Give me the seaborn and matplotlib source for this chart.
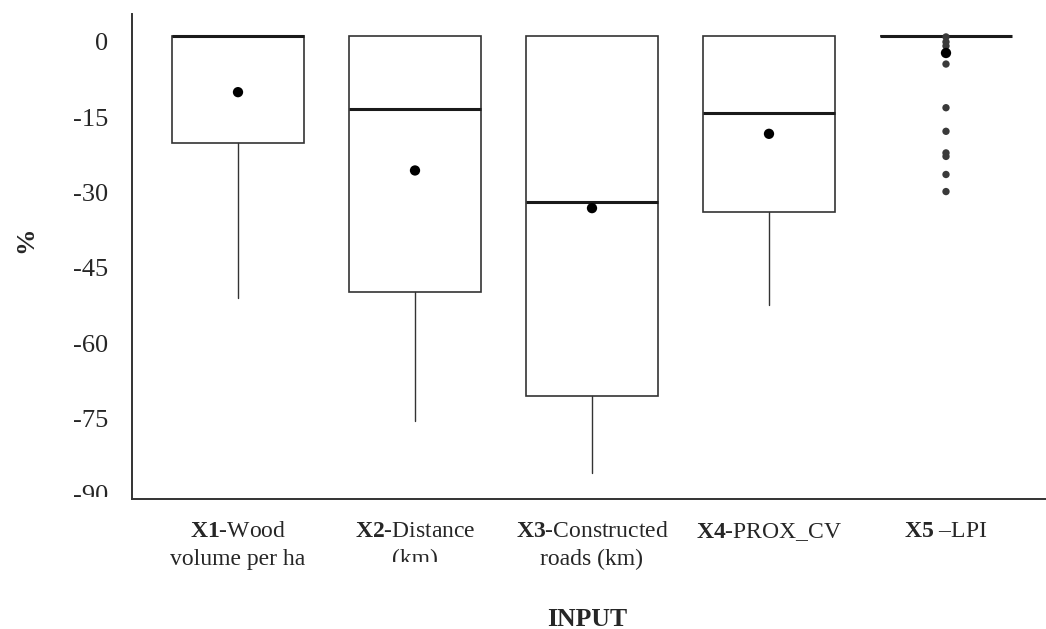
import matplotlib
matplotlib.use("Agg")
import matplotlib.pyplot as plt
from matplotlib.transforms import Bbox, TransformedBbox, ScaledTranslation
import seaborn as sns
import numpy as np

# ---- data ----
categories = ["X1", "X2", "X3", "X4", "X5"]
tick_labels = [
    r"$\mathbf{X1}$-Wood" + "\nvolume per ha",
    r"$\mathbf{X2}$-Distance" + "\n(km)",
    r"$\mathbf{X3}$-Constructed" + "\nroads (km)",
    r"$\mathbf{X4}$-PROX_CV",
    r"$\mathbf{X5}$ –LPI",
]
q3_values = [0.0, 0.0, 0.0, 0.0, 0.0]
median_values = [0.0, -14.5, -33.0, -15.3, 0.0]
q1_values = [-21.3, -51.0, -71.8, -35.0, 0.0]
whisker_high = [0.0, 0.0, 0.0, 0.0, 0.0]
whisker_low = [-52.2, -76.8, -87.0, -53.5, 0.0]
mean_values = [-11.2, -26.8, -34.3, -19.5, -3.4]
x5_outliers = [-0.2, -1.2, -2.0, -5.6, -14.3, -19.0, -23.3, -24.0, -27.6, -31.0]
y_ticks = [0, -15, -30, -45, -60, -75, -90]

sns.set_style("white")
plt.rcParams["font.family"] = ["Liberation Serif", "DejaVu Serif"]
plt.rcParams["mathtext.fontset"] = "custom"
plt.rcParams["mathtext.rm"] = "Liberation Serif"
plt.rcParams["mathtext.bf"] = "Liberation Serif:bold"

fig = plt.figure(figsize=(10.46, 6.29), dpi=100)
ax = fig.add_axes([0.126, 0.207, 0.874, 0.771])

positions = list(range(len(categories)))
stats = []
for i in positions:
    stats.append(dict(med=median_values[i], q1=q1_values[i], q3=q3_values[i],
                      whislo=whisker_low[i], whishi=whisker_high[i],
                      mean=mean_values[i], fliers=[], label=categories[i]))

ax.bxp(stats, positions=positions, widths=0.75, showfliers=False, showmeans=False,
       showcaps=False, patch_artist=True,
       boxprops=dict(facecolor="white", edgecolor="#333333", linewidth=1.2),
       whiskerprops=dict(color="#333333", linewidth=1.0),
       medianprops=dict(color="#1a1a1a", linewidth=2.2))

sns.scatterplot(x=[positions[4]] * len(x5_outliers), y=x5_outliers, ax=ax,
                color="#3a3a3a", s=28, edgecolor="none", zorder=4)
sns.scatterplot(x=positions, y=mean_values, ax=ax, color="black", s=55,
                edgecolor="none", zorder=5)

ax.set_xlim(-0.6, 4.565)
ax.set_ylim(-92.2, 4.4)
ax.set_yticks(y_ticks)
ax.set_yticklabels([str(v) for v in y_ticks], fontsize=19)
ax.set_xticks(positions)
ax.set_xticklabels(tick_labels, fontsize=17, linespacing=1.42)
ax.tick_params(axis="y", length=0, pad=17)
ax.tick_params(axis="x", length=4, direction="inout", color="#777777", pad=14)

for side in ["top", "right"]:
    ax.spines[side].set_visible(False)
for side in ["left", "bottom"]:
    ax.spines[side].set_color("#333333")
    ax.spines[side].set_linewidth(1.4)

ax.set_xlabel("INPUT", fontsize=18.5, fontweight="bold")
ax.xaxis.set_label_coords(0.498, -0.225)
ax.set_ylabel("%", fontsize=19, fontweight="bold")
ax.yaxis.set_label_coords(-0.103, 0.534)

# y tick labels sit slightly below their ticks in the reference
shift = ScaledTranslation(0, -6 / 100, fig.dpi_scale_trans)
for lab in ax.get_yticklabels():
    lab.set_transform(lab.get_transform() + shift)

# clipping artefacts present in the reference
xl = ax.get_xticklabels()
xl[1].set_clip_box(TransformedBbox(Bbox([[0, 0.1065], [1, 1]]), fig.transFigure))
xl[1].set_clip_on(True)
yl = ax.get_yticklabels()
yl[-1].set_clip_box(TransformedBbox(Bbox([[0, 0.21], [1, 1]]), fig.transFigure))
yl[-1].set_clip_on(True)

fig.savefig("out.png", dpi=100)
